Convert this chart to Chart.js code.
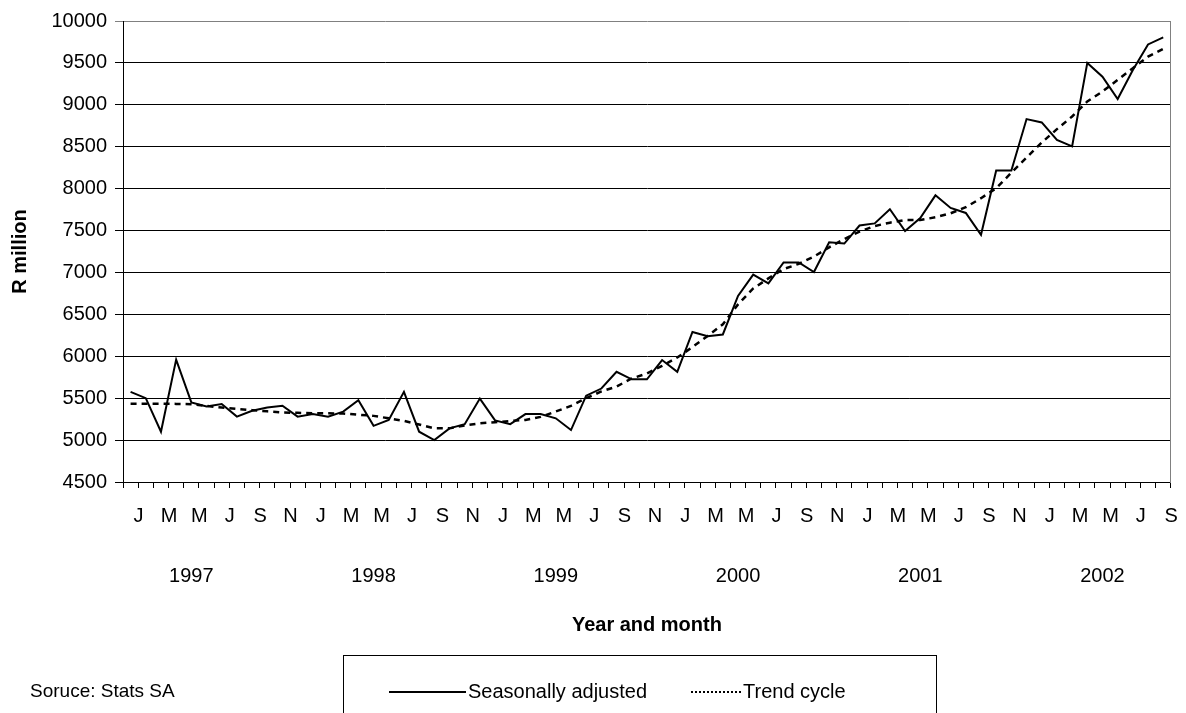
<!DOCTYPE html>
<html>
<head>
<meta charset="utf-8">
<script src="https://cdn.jsdelivr.net/npm/chart.js@4/dist/chart.umd.min.js"></script>
<style>
  html, body { margin: 0; padding: 0; background: #fff; overflow: hidden; }
  #wrap { position: relative; width: 1186px; height: 713px; font-family: "Liberation Sans", Arial, sans-serif; color: #000; }
  #source { position: absolute; left: 30px; top: 679px; font-size: 19px; line-height: 24px; }
  #legend { position: absolute; left: 343px; top: 655px; width: 594px; height: 80px; border: 1px solid #000; box-sizing: border-box; }
  #legend .txt { position: absolute; top: 23px; font-size: 20px; line-height: 24px; white-space: nowrap; }
  #legend .ln { position: absolute; top: 35px; height: 0; }
</style>
</head>
<body>
<div id="wrap">
  <canvas id="chart" width="1186" height="713"></canvas>
  <div id="source">Soruce: Stats SA</div>
  <div id="legend">
    <span class="ln" style="left:45px;width:77px;border-top:2px solid #000;"></span>
    <span class="txt" style="left:124px;">Seasonally adjusted</span>
    <span class="ln" style="left:347px;width:50px;border-top:2px dotted #000;"></span>
    <span class="txt" style="left:399px;">Trend cycle</span>
  </div>
</div>
<script>
// months Jan 1997 .. Sep 2002
const monthLetters = ['J', 'F', 'M', 'A', 'M', 'J', 'J', 'A', 'S', 'O', 'N', 'D'];
const years = ['1997', '1998', '1999', '2000', '2001', '2002'];
const yTicks = { min: 4500, max: 10000, step: 500 };

const seasonallyAdjusted = [
    5575, 5500, 5100, 5960, 5450, 5400, 5430, 5280, 5350, 5390, 5410, 5280,
    5310, 5280, 5340, 5475, 5170, 5240, 5575, 5100, 5000, 5140, 5190, 5495,
    5235, 5190, 5310, 5310, 5260, 5120, 5530, 5615, 5815, 5725, 5725, 5955,
    5815, 6290, 6240, 6260, 6720, 6975, 6870, 7120, 7120, 7005, 7360, 7345,
    7560, 7585, 7755, 7495, 7650, 7920, 7770, 7710, 7450, 8215, 8215, 8830,
    8790, 8580, 8505, 9500, 9335, 9070, 9415, 9720, 9805
];
const trendCycle = [
    5435, 5435, 5435, 5432, 5428, 5408, 5388, 5372, 5357, 5343, 5329, 5325,
    5321, 5319, 5317, 5303, 5289, 5260, 5229, 5185, 5141, 5140, 5175, 5200,
    5213, 5227, 5241, 5277, 5341, 5408, 5500, 5580, 5639, 5735, 5795, 5886,
    5985, 6110, 6242, 6381, 6619, 6809, 6929, 7040, 7103, 7190, 7300, 7399,
    7487, 7554, 7594, 7626, 7626, 7658, 7706, 7778, 7886, 8005, 8190, 8370,
    8550, 8710, 8861, 9040, 9159, 9298, 9437, 9575, 9667
];

const labels = seasonallyAdjusted.map((_, i) => monthLetters[i % 12]);

Chart.defaults.font.family = '"Liberation Sans", Arial, sans-serif';
Chart.defaults.font.size = 20;
Chart.defaults.color = '#000';

new Chart(document.getElementById('chart'), {
    type: 'line',
    data: {
        labels: labels,
        datasets: [
            {
                label: 'Seasonally adjusted',
                data: seasonallyAdjusted,
                borderColor: '#000',
                borderWidth: 2,
                pointRadius: 0,
                tension: 0,
                xAxisID: 'x',
                yAxisID: 'y'
            },
            {
                label: 'Trend cycle',
                data: trendCycle,
                borderColor: '#000',
                borderWidth: 2.5,
                borderDash: [6, 5],
                pointRadius: 0,
                tension: 0,
                xAxisID: 'x',
                yAxisID: 'y'
            }
        ]
    },
    options: {
        responsive: false,
        animation: false,
        layout: { padding: { top: 21, left: 0, right: 0, bottom: 76 } },
        plugins: {
            legend: { display: false },
            tooltip: { enabled: false }
        },
        scales: {
            x: {
                type: 'category',
                position: 'bottom',
                offset: true,
                weight: 0,
                grid: { display: true, drawOnChartArea: false, drawTicks: true, tickLength: 6, color: '#000', offset: true },
                border: { color: '#000', width: 1 },
                ticks: {
                    autoSkip: false, maxRotation: 0, minRotation: 0, padding: 16, labelOffset: 8,
                    callback: (v, i) => i % 2 === 0 ? labels[i] : ''
                },
                afterFit: s => { s.height = 60; }
            },
            x2: {
                type: 'category',
                position: 'bottom',
                offset: true,
                weight: 1,
                grid: { display: false, drawTicks: false },
                border: { display: false },
                ticks: {
                    autoSkip: false, maxRotation: 0, minRotation: 0, padding: 22,
                    callback: (v, i) => i % 12 === 4 ? years[Math.floor(i / 12)] : ''
                },
                title: { display: true, text: 'Year and month', font: { weight: 'bold', size: 20 }, padding: 0 },
                afterFit: s => { s.height = 95; }
            },
            y: {
                position: 'left',
                min: yTicks.min,
                max: yTicks.max,
                grid: {
                    color: c => (c.tick && c.tick.value === yTicks.max) ? '#808080' : '#000',
                    lineWidth: 1, drawTicks: true, tickLength: 8
                },
                border: { color: '#000', width: 1 },
                ticks: { stepSize: yTicks.step, padding: 8, callback: v => String(v) },
                title: { display: true, text: 'R million', font: { weight: 'bold', size: 20 }, padding: { top: 8, bottom: 0 } },
                afterFit: s => { s.width = 123; }
            },
            y2: {
                position: 'right',
                grid: { display: false, drawTicks: false },
                ticks: { display: false },
                border: { color: '#808080', width: 1 },
                afterFit: s => { s.width = 14; }
            }
        }
    }
});
</script>
</body>
</html>
